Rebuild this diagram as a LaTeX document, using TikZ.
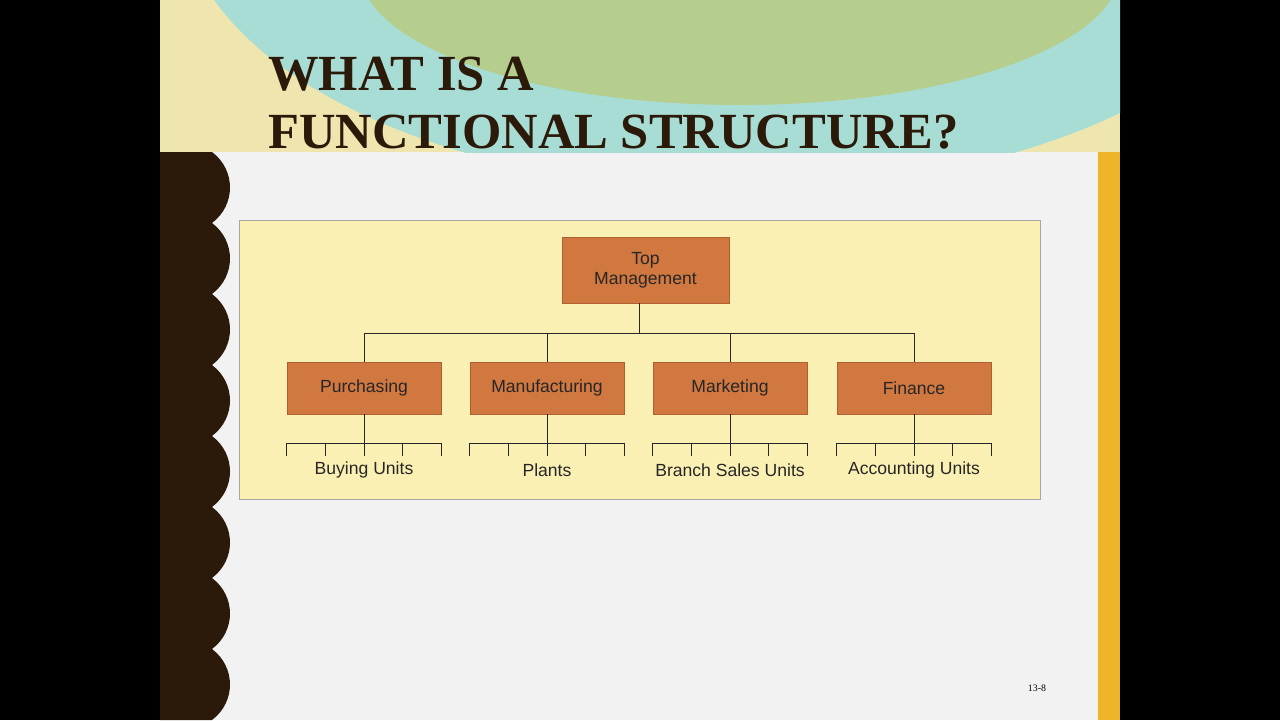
\documentclass[tikz,border=0pt]{standalone}
\usepackage{fontspec}
\usetikzlibrary{calc}
\setmainfont{Liberation Serif}
\setsansfont{Liberation Sans}
\begin{document}
\begin{tikzpicture}[x=0.05cm,y=-0.05cm,
  box/.style={draw=boxline,fill=boxfill,minimum width=154*0.05cm,minimum height=52*0.05cm,inner sep=0pt,font=\sffamily\fontsize{25}{29}\selectfont,text=black!85,align=center},
  lbl/.style={font=\sffamily\fontsize{25}{29}\selectfont,text=black!85,inner sep=0pt},
  ln/.style={line width=1.2pt,black!85}]
\definecolor{boxfill}{HTML}{D07840}
\definecolor{boxline}{HTML}{B06030}
\definecolor{panel}{HTML}{FAF0B4}
\definecolor{beige}{HTML}{EEE6AE}
\definecolor{teal}{HTML}{A8DDD5}
\definecolor{green}{HTML}{B5CE8E}
\definecolor{brown}{HTML}{2B1A0A}
\definecolor{orange}{HTML}{F0B429}
\definecolor{slide}{HTML}{F2F2F2}
\useasboundingbox (0,0) rectangle (1280,720);
\fill[black] (0,0) rectangle (1280,720);
\fill[slide] (160,152) rectangle (1120,720);
\begin{scope}
\clip (160,0) rectangle (1120,152);
\fill[beige] (160,0) rectangle (1120,152);
\fill[teal] (740,-100) ellipse [x radius=560, y radius=290];
\fill[green] (740,-30) ellipse [x radius=380, y radius=135];
\end{scope}
\fill[brown] (160,152) -- (212,152)
  \foreach \k in {0,...,7} { .. controls (236,{152+\k*71+18}) and (236,{152+\k*71+53}) .. (212,{152+\k*71+71}) } -- (212,720) -- (160,720) -- cycle;
\fill[orange] (1098,152) rectangle (1120,720);
\node[anchor=base west,inner sep=0pt,text=brown,font=\bfseries\fontsize{72}{80}\selectfont,align=left] (t1) at (268,90) {WHAT IS A};
\node[anchor=base west,inner sep=0pt,text=brown,font=\bfseries\fontsize{72}{80}\selectfont,align=left] (t2) at (268,148) {FUNCTIONAL STRUCTURE?};
\fill[panel,draw=black!35] (239,220) rectangle (1040,499);
\node[box,minimum width=167*0.05cm,minimum height=66*0.05cm] (top) at (645.5,270) {Top\\Management};
\node[box] (b1) at (364,388) {Purchasing};
\node[box] (b2) at (547,388) {Manufacturing};
\node[box] (b3) at (730,388) {Marketing};
\node[box] (b4) at (914,388) {Finance};
\coordinate (j) at (639,333);
\draw[ln] (top.south -| j) -- (j);
\draw[ln] (b1.north |- j) -- (b4.north |- j);
\foreach \b in {b1,b2,b3,b4} \draw[ln] (\b.north |- j) -- (\b.north);
\foreach \b/\t in {b1/Buying Units,b2/Plants,b3/Branch Sales Units,b4/Accounting Units}{
  \coordinate (\b h) at ([yshift=-29*0.05cm]\b.south);
  \draw[ln] (\b.south) -- (\b h);
  \draw[ln] (\b.south west |- \b h) -- (\b.south east |- \b h);
  \foreach \f in {0,0.25,0.5,0.75,1}
    \draw[ln] ($(\b.south west |- \b h)!\f!(\b.south east |- \b h)$) -- ++(0,13);
  \node[lbl] (\b l) at ([yshift=-56*0.05cm]\b.south) {\t};
}
\node[font=\fontsize{14}{16}\selectfont,inner sep=0pt] (pg) at (1037,688) {13-8};
\end{tikzpicture}
\end{document}
